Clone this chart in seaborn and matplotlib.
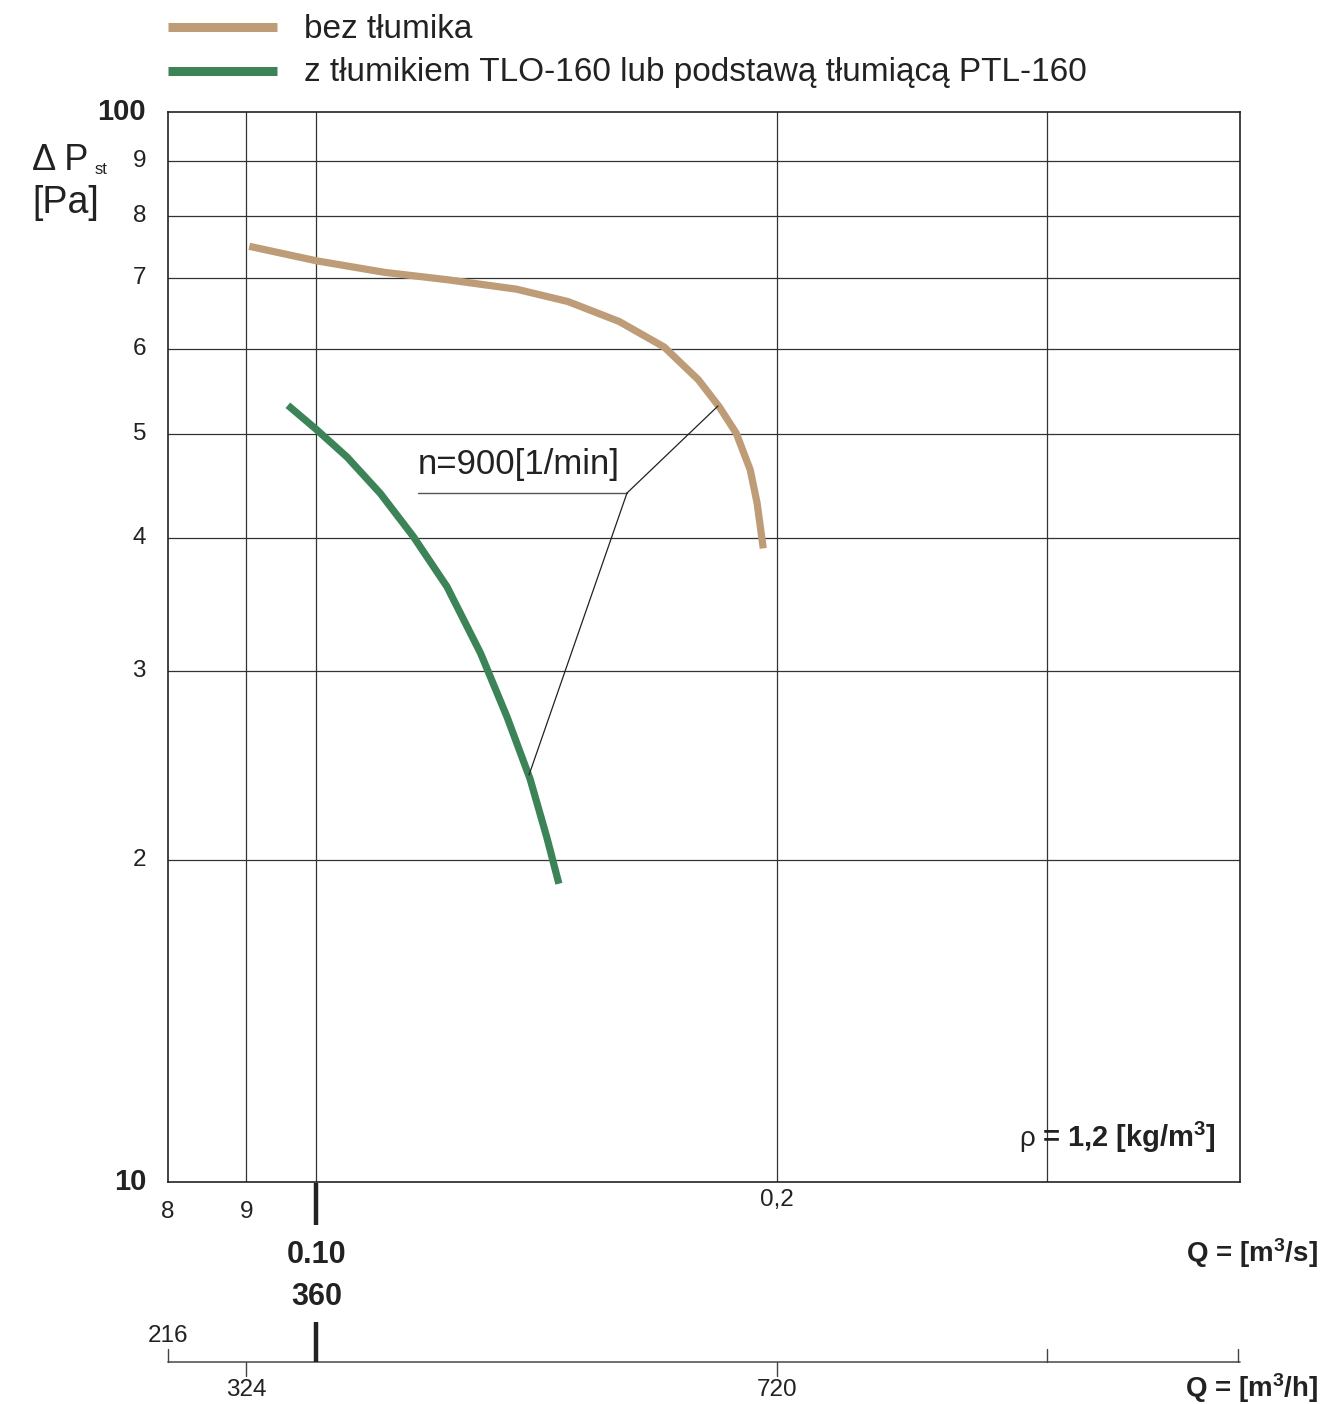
import numpy as np
import pandas as pd
import matplotlib
matplotlib.use("Agg")
import matplotlib.pyplot as plt
import matplotlib.transforms as mtransforms
from matplotlib.lines import Line2D
import seaborn as sns

# ---------------- data ----------------
q_bez = [0.0904, 0.1000, 0.1109, 0.1218, 0.1351, 0.1460, 0.1577, 0.1687, 0.1776,
         0.1833, 0.1880, 0.1920, 0.1940, 0.1958]
p_bez = [74.9, 72.6, 70.8, 69.7, 68.3, 66.5, 63.7, 60.3, 56.2,
         53.0, 50.1, 46.3, 43.1, 39.1]
q_tlo = [0.0958, 0.1000, 0.1047, 0.1101, 0.1157, 0.1217, 0.1280, 0.1332, 0.1379,
         0.1414, 0.1440]
p_tlo = [53.2, 50.5, 47.6, 44.0, 40.1, 36.0, 31.2, 27.2, 23.8, 21.0, 19.0]

series_names = ["bez tłumika", "z tłumikiem TLO-160 lub podstawą tłumiącą PTL-160"]
series_colors = ["#BE9C77", "#3C8458"]

y_ticks = [10, 20, 30, 40, 50, 60, 70, 80, 90, 100]
y_ticklabels = ["10", "2", "3", "4", "5", "6", "7", "8", "9", "100"]
x_grid = [0.09, 0.10, 0.20, 0.30]
x_small_labels = [(0.08, "8"), (0.09, "9")]
qh_labels_below = [(0.09, "324"), (0.20, "720")]
qh_ticks_up = [0.08, 0.30, 0.40]
qh_ticks_down = [0.09, 0.20]

df = pd.concat([
    pd.DataFrame({"Q": q_bez, "P": p_bez, "seria": series_names[0]}),
    pd.DataFrame({"Q": q_tlo, "P": p_tlo, "seria": series_names[1]}),
])

# ---------------- figure ----------------
sns.set_style("white")
plt.rcParams["font.family"] = ["Liberation Sans", "DejaVu Sans"]

W, H = 1322, 1404
fig = plt.figure(figsize=(W / 100, H / 100), dpi=100)
TXT = "#222222"


def fx(px):
    return px / W


def fy(py):
    return 1 - py / H


ax = fig.add_axes([fx(168), fy(1182), fx(1240) - fx(168), fy(112) - fy(1182)])
ax.set_xscale("log")
ax.set_yscale("log")
ax.set_xlim(0.08, 0.4010)
ax.set_ylim(10, 100)

# grid
for yv in y_ticks[1:-1]:
    ax.axhline(yv, color="#333333", lw=0.9, zorder=1)
for xv in x_grid:
    ax.axvline(xv, color="#333333", lw=0.9, zorder=1)
for s in ax.spines.values():
    s.set_color("#222222")
    s.set_linewidth(1.2)

sns.lineplot(data=df, x="Q", y="P", hue="seria", palette=series_colors,
             sort=False, estimator=None, lw=5.2, ax=ax, legend=False, zorder=3)
for ln in ax.lines[-2:]:
    ln.set_solid_capstyle("butt")
    ln.set_solid_joinstyle("round")

ax.xaxis.set_major_locator(matplotlib.ticker.NullLocator())
ax.yaxis.set_major_locator(matplotlib.ticker.NullLocator())
ax.xaxis.set_minor_locator(matplotlib.ticker.NullLocator())
ax.yaxis.set_minor_locator(matplotlib.ticker.NullLocator())
ax.set_xlabel("")
ax.set_ylabel("")

# y tick labels
ty = mtransforms.blended_transform_factory(fig.transFigure, ax.transData)
for yv, lab in zip(y_ticks, y_ticklabels):
    bold = lab in ("10", "100")
    ax.text(fx(146), yv, lab, transform=ty, ha="right", va="center",
            fontsize=21 if bold else 17.5, fontweight="bold" if bold else "normal",
            color=TXT)

# x small labels
tx = mtransforms.blended_transform_factory(ax.transData, fig.transFigure)
for xv, lab in x_small_labels:
    ax.text(xv, fy(1212), lab, transform=tx, ha="center", va="center",
            fontsize=17.5, color=TXT)
ax.text(0.20, fy(1200), "0,2", transform=tx, ha="center", va="center",
        fontsize=17.5, color=TXT)

# thick tick at 0.10
ax.plot([0.1, 0.1], [fy(1183), fy(1225)], transform=tx, color="#222222",
        lw=3.2, clip_on=False, solid_capstyle="butt")
ax.text(0.1, fy(1255), "0.10", transform=tx, ha="center", va="center",
        fontsize=22, fontweight="bold", color=TXT)
ax.text(0.1, fy(1297), "360", transform=tx, ha="center", va="center",
        fontsize=22, fontweight="bold", color=TXT)

# secondary m3/h scale
ax.plot([0.08, 0.4010], [fy(1362), fy(1362)], transform=tx, color="#555555",
        lw=1.2, clip_on=False)
for xv in qh_ticks_up:
    ax.plot([xv, xv], [fy(1362), fy(1349)], transform=tx, color="#444444",
            lw=1.0, clip_on=False)
for xv in qh_ticks_down:
    ax.plot([xv, xv], [fy(1362), fy(1376)], transform=tx, color="#444444",
            lw=1.0, clip_on=False)
ax.plot([0.1, 0.1], [fy(1322), fy(1362)], transform=tx, color="#222222",
        lw=3.2, clip_on=False, solid_capstyle="butt")
ax.text(0.08, fy(1336), "216", transform=tx, ha="center", va="center",
        fontsize=17.5, color=TXT)
for xv, lab in qh_labels_below:
    ax.text(xv, fy(1390), lab, transform=tx, ha="center", va="center",
            fontsize=17.5, color=TXT)

# axis titles
fig.text(fx(1318), fy(1253), r"Q = [m$\mathregular{^3}$/s]", ha="right", va="center",
         fontsize=20, fontweight="bold", color=TXT)
fig.text(fx(1318), fy(1388), r"Q = [m$\mathregular{^3}$/h]", ha="right", va="center",
         fontsize=20, fontweight="bold", color=TXT)
fig.text(fx(32), fy(160), "Δ P", ha="left", va="center", fontsize=26, color=TXT)
fig.text(fx(95), fy(170), "st", ha="left", va="center", fontsize=12, color=TXT)
fig.text(fx(32), fy(203), "[Pa]", ha="left", va="center", fontsize=27, color=TXT)

# density note
fig.text(fx(1019), fy(1139), "ρ", ha="left", va="center", fontsize=20, color=TXT)
fig.text(fx(1042), fy(1137), r"= 1,2 [kg/m$\mathregular{^3}$]", ha="left", va="center",
         fontsize=21, fontweight="bold", color=TXT)

# annotation n=900
tf = fig.transFigure
fig.text(fx(418), fy(465), "n=900[1/min]", ha="left", va="center", fontsize=25,
         color=TXT)
fig.lines.append(Line2D([fx(418), fx(627)], [fy(493), fy(493)],
                        transform=tf, color="#555555", lw=1.0))
fig.lines.append(Line2D([fx(627), fx(718)], [fy(493), fy(406)],
                        transform=tf, color="#222222", lw=0.9))
fig.lines.append(Line2D([fx(627), fx(529)], [fy(493), fy(775)],
                        transform=tf, color="#222222", lw=0.9))

# legend at top
for (yl, name, col) in [(27, series_names[0], series_colors[0]),
                        (71, series_names[1], series_colors[1])]:
    fig.lines.append(Line2D([fx(168), fx(277)], [fy(yl), fy(yl)],
                            transform=tf, color=col, lw=6.5,
                            solid_capstyle="butt"))
    fig.text(fx(304), fy(yl + 2), name, ha="left", va="center", fontsize=24,
             color=TXT)

fig.savefig("out.png", dpi=100, facecolor="white")
